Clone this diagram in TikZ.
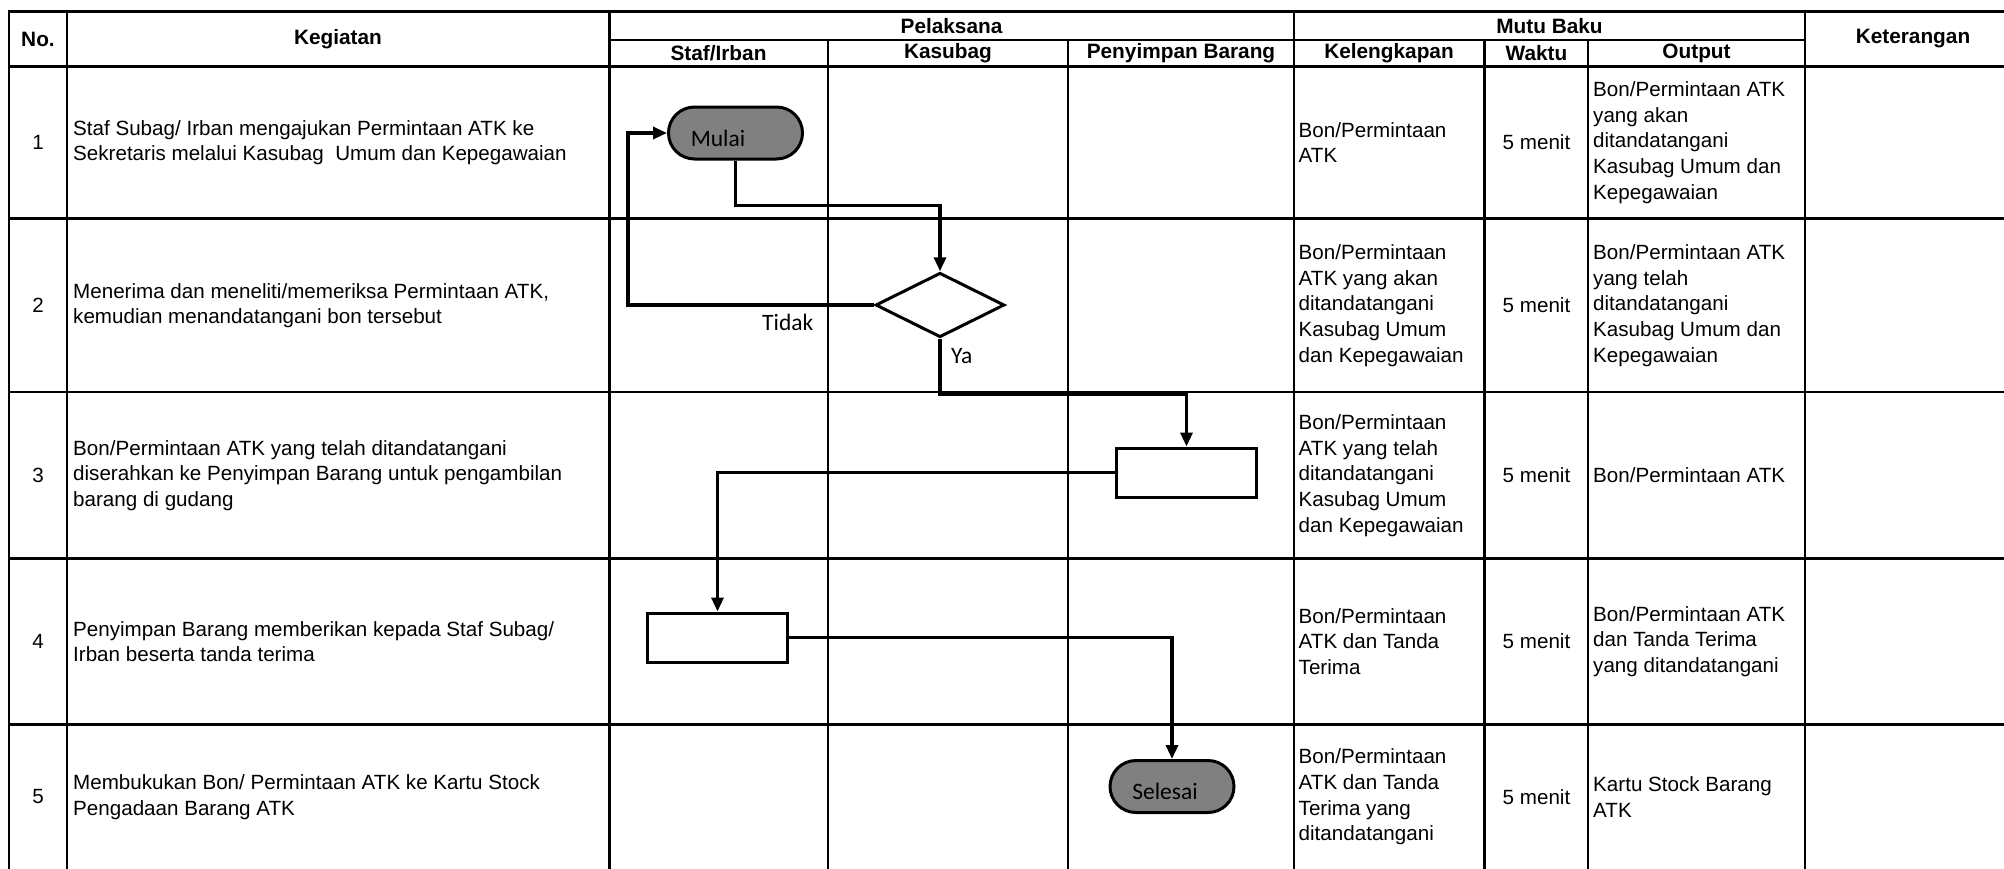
\documentclass[tikz,border=0pt]{standalone}
\usepackage{fontspec}
\setmainfont{Liberation Sans}
\newfontfamily\flowfont{Carlito}
\usetikzlibrary{shapes.geometric,arrows.meta}
\definecolor{termgray}{RGB}{128,128,128}
\begin{document}
\begin{tikzpicture}[x=1pt,y=-1pt,
  gridline/.style={line width=2.4pt, line cap=rect},
  conn/.style={line width=3pt},
  flow/.style={line width=3.2pt, -{Triangle[length=14pt,width=12pt]}},
  term/.style={draw, line width=3pt, fill=termgray, rounded corners=26pt, minimum width=#1, minimum height=52pt, inner sep=0pt},
  procbox/.style={draw, line width=3pt, fill=white, minimum width=140pt, minimum height=49pt, inner sep=0pt},
  decbox/.style={draw, line width=3pt, diamond, fill=white, minimum width=129pt, minimum height=64.5pt, inner sep=0pt},
  flowtxt/.style={font=\flowfont\fontsize{23.5}{27}\selectfont, inner sep=0pt},
  cell/.style={anchor=west, align=left, inner sep=0pt, font=\fontsize{20.6}{25.6}\selectfont},
  num/.style={inner sep=0pt, font=\fontsize{20.6}{25.6}\selectfont},
  hdr/.style={inner sep=0pt, font=\bfseries\fontsize{20.8}{25.6}\selectfont}
]
\useasboundingbox (0,0) rectangle (2004,868);
\fill[white] (0,0) rectangle (2004,868);

% ---------------- table grid ----------------
\draw[gridline] (9,11.5) -- (2010,11.5);
\draw[gridline] (609.5,40) -- (1805,40);
\draw[gridline] (9,66.5) -- (2010,66.5);
\foreach \yy in {218.5,392,558.5,724.5}
  \draw[gridline] (9,\yy) -- (2010,\yy);
\foreach \xx in {9,67,609.5,1294,1805}
  \draw[gridline] (\xx,11.5) -- (\xx,875);
\foreach \xx in {828,1068,1484.5,1588}
  \draw[gridline] (\xx,40) -- (\xx,875);

% ---------------- headers ----------------
\node[hdr] (hno) at (38,39) {No.};
\node[hdr] (hkeg) at (338,39) {Kegiatan};
\node[hdr] (hpel) at (951.5,26) {Pelaksana};
\node[hdr] (hstaf) at (718.5,53.5) {Staf/Irban};
\node[hdr] (hkas) at (948,53.5) {Kasubag};
\node[hdr] (hpen) at (1181,53.5) {Penyimpan Barang};
\node[hdr] (hmutu) at (1549.5,26) {Mutu Baku};
\node[hdr] (hkel) at (1389,53.5) {Kelengkapan};
\node[hdr] (hwak) at (1536.5,53.5) {Waktu};
\node[hdr] (hout) at (1696.5,53.5) {Output};
\node[hdr] (hket) at (1913,39) {Keterangan};

% ---------------- row 1 ----------------
\node[num] (n1) at (38,142.5) {1};
\node[cell] (k1) at (73,142.5) {Staf Subag/ Irban mengajukan Permintaan ATK ke\\Sekretaris melalui Kasubag\ \ Umum dan Kepegawaian};
\node[cell] (kl1) at (1298.5,142.5) {Bon/Permintaan\\ATK};
\node[num] (w1) at (1536.5,142.5) {5 menit};
\node[cell] (o1) at (1593,142.5) {Bon/Permintaan ATK\\yang akan\\ditandatangani\\Kasubag Umum dan\\Kepegawaian};

% ---------------- row 2 ----------------
\node[num] (n2) at (38,305.5) {2};
\node[cell] (k2) at (73,305.5) {Menerima dan meneliti/memeriksa Permintaan ATK,\\kemudian menandatangani bon tersebut};
\node[cell] (kl2) at (1298.5,305.5) {Bon/Permintaan\\ATK yang akan\\ditandatangani\\Kasubag Umum\\dan Kepegawaian};
\node[num] (w2) at (1536.5,305.5) {5 menit};
\node[cell] (o2) at (1593,305.5) {Bon/Permintaan ATK\\yang telah\\ditandatangani\\Kasubag Umum dan\\Kepegawaian};

% ---------------- row 3 ----------------
\node[num] (n3) at (38,475.5) {3};
\node[cell] (k3) at (73,475.5) {Bon/Permintaan ATK yang telah ditandatangani\\diserahkan ke Penyimpan Barang untuk pengambilan\\barang di gudang};
\node[cell] (kl3) at (1298.5,475.5) {Bon/Permintaan\\ATK yang telah\\ditandatangani\\Kasubag Umum\\dan Kepegawaian};
\node[num] (w3) at (1536.5,475.5) {5 menit};
\node[cell] (o3) at (1593,475.5) {Bon/Permintaan ATK};

% ---------------- row 4 ----------------
\node[num] (n4) at (38,641.5) {4};
\node[cell] (k4) at (73,641.5) {Penyimpan Barang memberikan kepada Staf Subag/\\Irban beserta tanda terima};
\node[cell] (kl4) at (1298.5,641.5) {Bon/Permintaan\\ATK dan Tanda\\Terima};
\node[num] (w4) at (1536.5,641.5) {5 menit};
\node[cell] (o4) at (1593,641.5) {Bon/Permintaan ATK\\dan Tanda Terima\\yang ditandatangani};

% ---------------- row 5 ----------------
\node[num] (n5) at (38,797) {5};
\node[cell] (k5) at (73,797) {Membukukan Bon/ Permintaan ATK ke Kartu Stock\\Pengadaan Barang ATK};
\node[cell] (kl5) at (1298.5,797) {Bon/Permintaan\\ATK dan Tanda\\Terima yang\\ditandatangani};
\node[num] (w5) at (1536.5,797) {5 menit};
\node[cell] (o5) at (1593,797) {Kartu Stock Barang\\ATK};

% ---------------- flowchart ----------------
\node[term=134pt] (mulai) at (735.5,133) {};
\node[flowtxt] (mulaitxt) at (718,138) {Mulai};
\node[decbox] (dec) at (940,305) {};
\node[procbox] (box3) at (1186.5,472.5) {};
\node[procbox] (box4) at (717.5,637.5) {};
\node[term=124pt] (selesai) at (1172,786.5) {};
\node[flowtxt] (selesaitxt) at (1165,791) {Selesai};

\coordinate (loop) at (628,305);
\draw[flow] (mulai.south) -- ++(0,45) -| (dec.north);
\draw[flow] (dec.west) -- (loop) |- (mulai.west);
\draw[flow] (dec.south) -- ++(0,56) -| (box3.north);
\draw[flow] (box3.west) -| (box4.north);
\draw[flow] (box4.east) -| (selesai.north);

\node[flowtxt, anchor=base west] (tidak) at (762,330) {Tidak};
\node[flowtxt, anchor=base west] (ya) at (951,363) {Ya};
\end{tikzpicture}
\end{document}
